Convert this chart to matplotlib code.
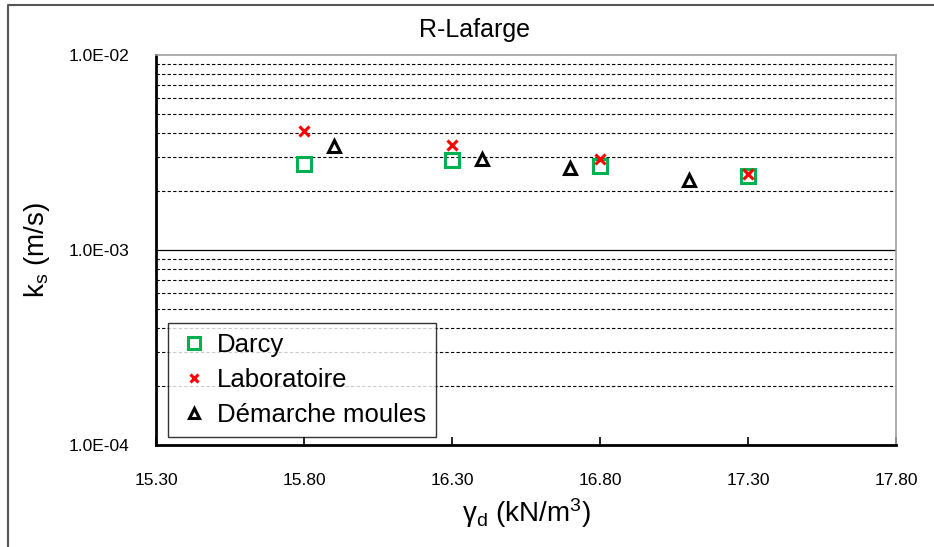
import numpy as np
import matplotlib
matplotlib.use('Agg')
import matplotlib.pyplot as plt
from matplotlib.lines import Line2D

plt.rcParams['font.family'] = ['Liberation Sans', 'DejaVu Sans']
plt.rcParams['mathtext.fontset'] = 'custom'
plt.rcParams['mathtext.rm'] = 'Liberation Sans'
plt.rcParams['mathtext.it'] = 'Liberation Sans'

# Donnees
x_darcy = [15.80, 16.30, 16.80, 17.30]
k_darcy = [2.76e-3, 2.90e-3, 2.70e-3, 2.40e-3]
x_labo = [15.80, 16.30, 16.80, 17.30]
k_labo = [4.07e-3, 3.45e-3, 2.93e-3, 2.45e-3]
x_moules = [15.90, 16.40, 16.70, 17.10]
k_moules = [3.40e-3, 2.93e-3, 2.64e-3, 2.29e-3]
xticks = [15.30, 15.80, 16.30, 16.80, 17.30, 17.80]
yticks = [1e-4, 1e-3, 1e-2]
ylabels = ['1.0E-04', '1.0E-03', '1.0E-02']

W, H = 934, 547
fig = plt.figure(figsize=(W / 100, H / 100), dpi=100)
ax = fig.add_axes([156 / W, 1 - 445 / H, (896 - 156) / W, (445 - 55) / H])

# cadre exterieur (haut et gauche seulement visibles)
fig.lines.append(Line2D([8 / W, 8 / W, 1.0], [0.0, 1 - 5 / H, 1 - 5 / H],
                        transform=fig.transFigure, color='#555555', linewidth=1.5))

ax.set_yscale('log')
ax.set_xlim(15.30, 17.80)
ax.set_ylim(1e-4, 1e-2)

# grille
for dec in [1e-4, 1e-3]:
    for m in range(2, 10):
        ax.axhline(m * dec, color='black', linestyle=(0, (3, 2)), linewidth=0.8, zorder=1)
ax.axhline(1e-3, color='black', linewidth=0.9, zorder=1)

ax.plot(x_darcy, k_darcy, linestyle='none', marker='s', markersize=10,
        markerfacecolor='none', markeredgecolor='#00b050', markeredgewidth=2.2,
        label='Darcy', zorder=3)
ax.plot(x_labo, k_labo, linestyle='none', marker='x', markersize=7,
        color='red', markeredgewidth=2.2, label='Laboratoire', zorder=4)
ax.plot(x_moules, k_moules, linestyle='none', marker='^', markersize=9,
        markerfacecolor='none', markeredgecolor='black', markeredgewidth=2.2,
        label='Démarche moules', zorder=3)

ax.set_xticks(xticks)
ax.set_xticklabels(['%.2f' % v for v in xticks], fontsize=12.5)
ax.set_yticks(yticks)
ax.set_yticklabels(ylabels, fontsize=12.5)
ax.yaxis.set_minor_locator(matplotlib.ticker.NullLocator())
ax.tick_params(axis='x', direction='in', length=6, width=1.2, pad=20)
ax.tick_params(axis='y', length=0, pad=19)
ax.spines['left'].set_linewidth(2.0)
ax.spines['bottom'].set_linewidth(2.0)
ax.spines['top'].set_color('#a0a0a0')
ax.spines['right'].set_color('#a0a0a0')
ax.spines['top'].set_linewidth(1.2)
ax.spines['right'].set_linewidth(1.2)

fig.text(475 / W, 1 - 30 / H, 'R-Lafarge', fontsize=18, ha='center', va='center')
ax.set_xlabel('γ$_\\mathrm{d}$ (kN/m$^\\mathrm{3}$)', fontsize=20, labelpad=6)
ax.set_ylabel('k$_\\mathrm{s}$ (m/s)', fontsize=20, labelpad=12)

leg = ax.legend(loc='lower left', bbox_to_anchor=(12 / 740, 8 / 390), fontsize=18.5,
                frameon=True, fancybox=False, edgecolor='black', borderaxespad=0,
                handletextpad=0.3, borderpad=0.4, labelspacing=0.42,
                handlelength=1.2, markerscale=0.85)
leg.get_frame().set_linewidth(1.0)

fig.savefig('out.png', dpi=100)
